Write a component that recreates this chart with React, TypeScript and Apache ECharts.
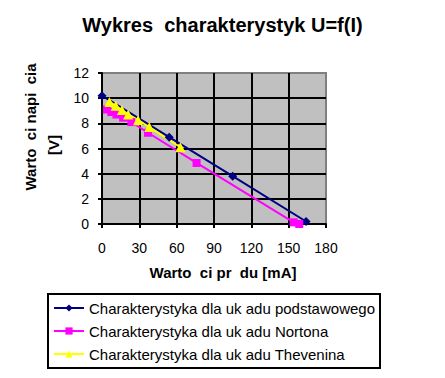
import React, { useEffect, useRef } from "react";
import * as echarts from "echarts";

const titleText = "Wykres  charakterystyk U=f(I)";
const yNameLine1 = "Warto  ci napi  cia";
const yNameLine2 = "[V]";
const xName = "Warto  ci pr  du [mA]";

const seriesNames = [
  "Charakterystyka dla uk adu podstawowego",
  "Charakterystyka dla uk adu Nortona",
  "Charakterystyka dla uk adu Thevenina",
];

// [I mA, U V]
const podstawowy: [number, number][] = [
  [0, 10.2],
  [54, 6.9],
  [105, 3.8],
  [164, 0.2],
];
const norton: [number, number][] = [
  [4, 9.1],
  [7.5, 8.9],
  [11.6, 8.7],
  [17, 8.45],
  [23.6, 8.1],
  [37, 7.25],
  [76, 4.85],
  [154, 0.13],
  [158.5, 0.0],
];
const thevenin: [number, number][] = [
  [6, 9.7],
  [11, 9.4],
  [16, 9.05],
  [21, 8.7],
  [29, 8.25],
  [38, 7.7],
  [63, 6.1],
];

const FONT = '"Liberation Sans", Arial, sans-serif';

export default function App() {
  const ref = useRef<HTMLDivElement>(null);
  useEffect(() => {
    if (!ref.current) return;
    const chart = echarts.init(ref.current, null, { renderer: "svg" });
    chart.setOption({
      animation: false,
      backgroundColor: "#ffffff",
      title: {
        text: titleText,
        left: "center",
        top: 10,
        textStyle: { fontFamily: FONT, fontSize: 20, fontWeight: "bold", color: "#000" },
      },
      grid: {
        left: 102,
        right: 119,
        top: 73,
        bottom: 154,
        show: true,
        backgroundColor: "#c0c0c0",
        borderColor: "#808080",
        borderWidth: 2,
      },
      xAxis: {
        type: "value",
        min: 0,
        max: 180,
        interval: 30,
        axisLine: { show: true, onZero: false, lineStyle: { color: "#000", width: 2 } },
        axisTick: { show: true, length: 4, lineStyle: { color: "#000", width: 2 } },
        axisLabel: { color: "#000", fontFamily: FONT, fontSize: 14, margin: 17 },
        splitLine: { show: true, showMaxLine: false, lineStyle: { color: "#000", width: 2 } },
      },
      yAxis: {
        type: "value",
        min: 0,
        max: 12,
        interval: 2,
        axisLine: { show: true, onZero: false, lineStyle: { color: "#000", width: 2 } },
        axisTick: { show: true, length: 4, lineStyle: { color: "#000", width: 2 } },
        axisLabel: { color: "#000", fontFamily: FONT, fontSize: 14, margin: 13 },
        splitLine: { show: true, showMaxLine: false, lineStyle: { color: "#000", width: 2 } },
      },
      legend: {
        orient: "vertical",
        left: 48,
        top: 294,
        padding: [6, 5, 6, 5],
        itemGap: 7,
        itemWidth: 30,
        itemHeight: 9,
        borderColor: "#000",
        borderWidth: 2,
        backgroundColor: "#fff",
        textStyle: { fontFamily: FONT, fontSize: 15, color: "#000", lineHeight: 16 },
        data: seriesNames,
      },
      graphic: [
        {
          type: "text",
          x: 30,
          y: 127,
          rotation: Math.PI / 2,
          style: {
            text: yNameLine1,
            font: `bold 15px ${FONT}`,
            fill: "#000",
            align: "center",
            verticalAlign: "middle",
          },
        },
        {
          type: "text",
          x: 53,
          y: 145,
          rotation: Math.PI / 2,
          style: {
            text: yNameLine2,
            font: `bold 15px ${FONT}`,
            fill: "#000",
            align: "center",
            verticalAlign: "middle",
          },
        },
        {
          type: "text",
          x: 223,
          y: 272,
          style: {
            text: xName,
            font: `bold 15px ${FONT}`,
            fill: "#000",
            align: "center",
            verticalAlign: "middle",
          },
        },
      ],
      series: [
        {
          name: seriesNames[0],
          type: "line",
          data: podstawowy,
          symbol: "diamond",
          symbolSize: 9,
          lineStyle: { color: "#000080", width: 2 },
          itemStyle: { color: "#000080" },
        },
        {
          name: seriesNames[1],
          type: "line",
          data: norton,
          symbol: "rect",
          symbolSize: 8,
          lineStyle: { color: "#ff00ff", width: 2 },
          itemStyle: { color: "#ff00ff" },
        },
        {
          name: seriesNames[2],
          type: "line",
          data: thevenin,
          symbol: "triangle",
          symbolSize: 10,
          lineStyle: { color: "#ffff00", width: 2 },
          itemStyle: { color: "#ffff00" },
        },
      ],
    });
    return () => chart.dispose();
  }, []);
  return <div ref={ref} style={{ width: 445, height: 378, position: "absolute", left: 0, top: 0 }} />;
}
